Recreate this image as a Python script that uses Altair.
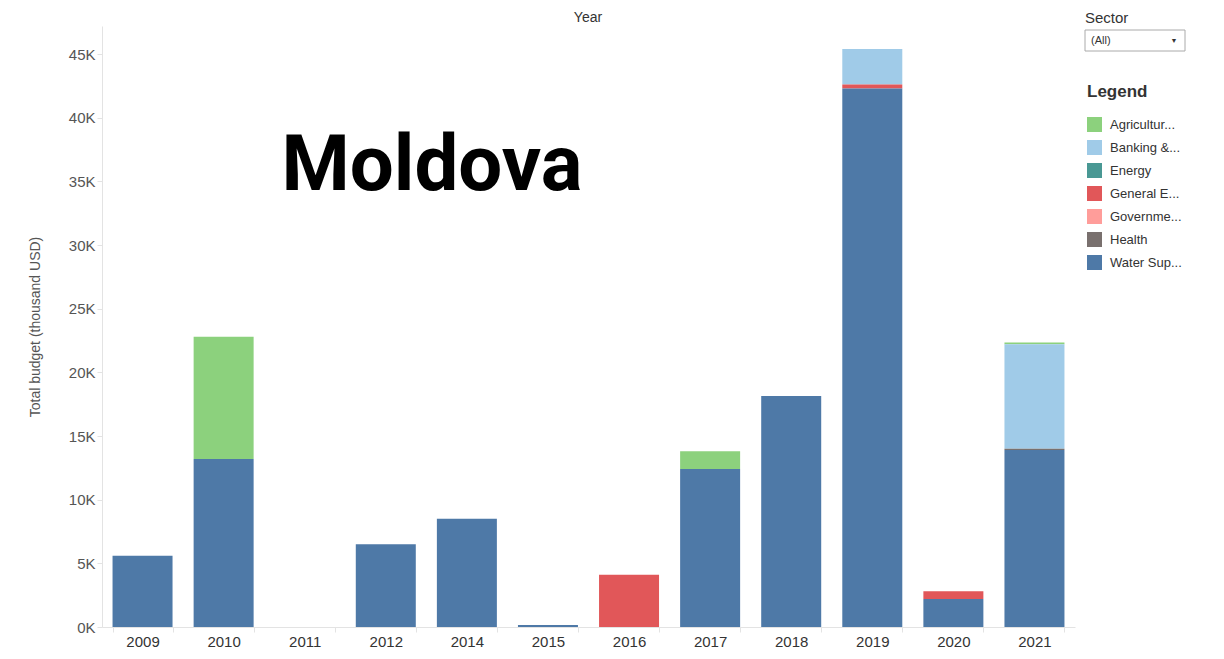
import altair as alt
import pandas as pd

# ---- data (thousand USD) ----
years = ["2009", "2010", "2011", "2012", "2014", "2015", "2016", "2017", "2018", "2019", "2020", "2021"]
sectors = ["Agricultur...", "Banking &...", "Energy", "General E...", "Governme...", "Health", "Water Sup..."]
colors = ["#8CD17D", "#A0CBE8", "#499894", "#E15759", "#FF9D9A", "#79706E", "#4E79A7"]

agriculture = [0, 9600, 0, 0, 0, 0, 0, 1400, 0, 0, 0, 150]
banking =     [0, 0, 0, 0, 0, 0, 0, 0, 0, 2800, 0, 8200]
energy =      [0, 0, 0, 0, 0, 0, 0, 0, 0, 0, 0, 0]
general =     [0, 0, 0, 0, 0, 0, 4100, 0, 0, 300, 600, 0]
government =  [0, 0, 0, 0, 0, 0, 0, 0, 0, 0, 0, 0]
health =      [0, 0, 0, 0, 0, 0, 0, 0, 0, 0, 0, 100]
water =       [5600, 13200, 0, 6500, 8500, 150, 0, 12400, 18150, 42300, 2200, 13900]

series = [agriculture, banking, energy, general, government, health, water]
y_ticks = [0, 5000, 10000, 15000, 20000, 25000, 30000, 35000, 40000, 45000]

rows = []
for si, (name, vals) in enumerate(zip(sectors, series)):
    for yr, v in zip(years, vals):
        rows.append({"year": yr, "sector": name, "budget": v, "rank": si})
df = pd.DataFrame(rows)

W, H = 973, 601

bars = alt.Chart(df).mark_bar(size=60).encode(
    x=alt.X("year:N", scale=alt.Scale(domain=years, paddingInner=0.26, paddingOuter=0.13),
            axis=alt.Axis(labelAngle=0, title=None, tickBand="extent", domainColor="#e3e3e3",
                          tickColor="#e3e3e3", tickSize=5, labelFontSize=15, labelColor="#333",
                          labelPadding=2, labelFont="Liberation Sans")),
    y=alt.Y("budget:Q", stack="zero", scale=alt.Scale(domain=[0, 47200], nice=False, zero=True),
            axis=alt.Axis(values=y_ticks, labelExpr="datum.value / 1000 + 'K'", grid=False,
                          domainColor="#e3e3e3", tickColor="#e3e3e3", tickSize=5,
                          labelFontSize=15, labelColor="#555", labelFont="Liberation Sans",
                          title="Total budget (thousand USD)", titleFontSize=14,
                          titleFontWeight="normal", titleColor="#555", titleFont="Liberation Sans",
                          titlePadding=26)),
    color=alt.Color("sector:N", scale=alt.Scale(domain=sectors, range=colors),
                    legend=alt.Legend(title="Legend", orient="none", legendX=985, legendY=58,
                                      titleFontSize=17, titleFontWeight="bold", titleColor="#333",
                                      titleFont="Liberation Sans", titlePadding=16,
                                      symbolType="square", symbolSize=225, symbolStrokeWidth=0,
                                      symbolOpacity=1,
                                      labelFontSize=13, labelColor="#333", labelFont="Liberation Sans",
                                      labelOffset=8, rowPadding=8, labelLimit=200)),
    order=alt.Order("rank:Q", sort="descending"),
)

def txt(label, x, y, **kw):
    return alt.Chart(pd.DataFrame({"t": [label]})).mark_text(**kw).encode(
        x=alt.value(x), y=alt.value(y), text="t:N")

year_title = txt("Year", 486, -8, fontSize=14, color="#333", font="Liberation Sans")
moldova = txt("Moldova", 330, 164, fontSize=78, fontWeight="bold", color="#000",
              font="Roboto", align="center", baseline="alphabetic")
sector_lbl = txt("Sector", 983, -8, fontSize=15, color="#333", font="Liberation Sans",
                 align="left", baseline="middle")
dropdown = alt.Chart(pd.DataFrame({"t": ["box"]})).mark_rect(fill="white", stroke="#aaa", strokeWidth=1).encode(
    x=alt.value(983), x2=alt.value(1083), y=alt.value(4), y2=alt.value(25))
all_lbl = txt("(All)", 989, 14.5, fontSize=11, color="#333", font="Liberation Sans",
              align="left", baseline="middle")
arrow = txt("▼", 1072, 14.5, fontSize=7, color="#333", align="center", baseline="middle")

chart = alt.layer(bars, year_title, moldova, sector_lbl, dropdown, all_lbl, arrow).properties(
    width=W, height=H,
    autosize=alt.AutoSizeParams(type="none"),
    padding={"left": 94, "top": 18, "right": 130, "bottom": 24},
).configure_view(stroke=None)

chart.save("out.html", embed_options={"renderer": "svg", "actions": False})
